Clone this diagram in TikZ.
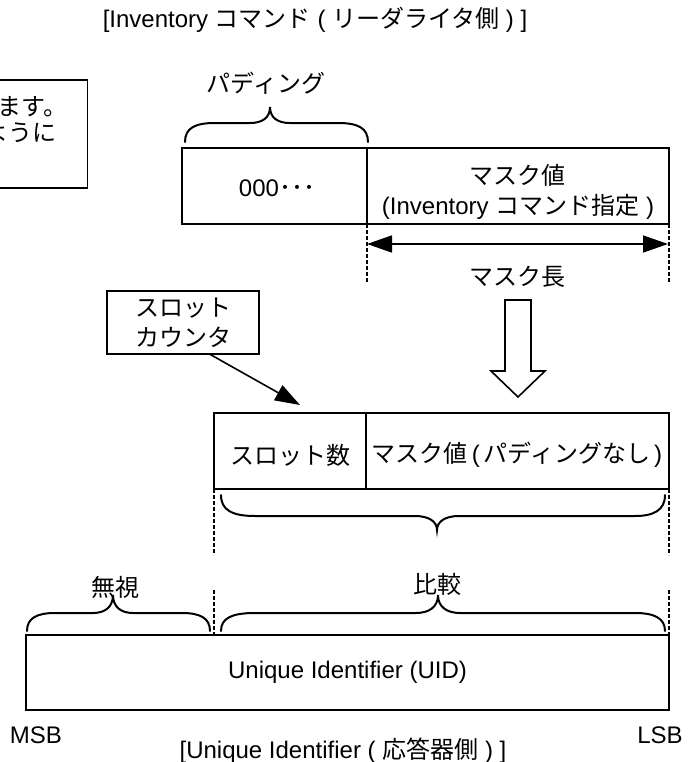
\documentclass[tikz,border=0pt]{standalone}
\usepackage{fontspec}
\setmainfont{Liberation Sans}
\newfontfamily\jpfont{Noto Sans CJK JP}
\newcommand{\jtx}[1]{{\jpfont #1}}
\usetikzlibrary{arrows.meta}
\begin{document}
\begin{tikzpicture}[x=0.5pt,y=-0.5pt,
  every node/.style={font=\fontsize{12}{15}\selectfont, inner sep=0pt, outer sep=0pt},
  cell/.style={draw, line width=0.8pt, minimum height=38pt},
  dashline/.style={line width=0.6pt, dash pattern=on 1.8pt off 1.2pt},
  braceline/.style={line width=1pt, line cap=round},
  bigarrow/.style={-{Triangle[length=12.5pt,width=8.5pt]}},
  dblarrow/.style={{Triangle[length=12.5pt,width=8.5pt]}-{Triangle[length=12.5pt,width=8.5pt]}}
]
\clip (0,0) rectangle (694,762);
\fill[white] (0,0) rectangle (694,762);

% title
\node (title) at (315,20) {[Inventory \jtx{コマンド} ( \jtx{リーダライタ側} ) ]};

% partial note box at left
\node[draw, line width=0.8pt, minimum width=55pt, minimum height=54pt] (note) at (32.5,134) {};
\node[anchor=east] (note1) at (67,107) {\jtx{ます。}};
\node[anchor=east] (note2) at (56,133) {\jtx{ように}};

% padding label and brace
\node (padlbl) at (266,83) {\jtx{パディング}};
\draw[braceline] (185,142) .. controls (185,128) and (195,123) .. (215,123) -- (250,123)
  .. controls (262,123) and (270,118) .. (270,107)
  .. controls (270,118) and (278,123) .. (290,123) -- (338,123)
  .. controls (358,123) and (368,128) .. (368,142);

% top boxes
\node[cell, minimum width=92.5pt] (pad) at (274.5,186) {};
\node[cell, minimum width=151pt] (mask) at (518,186) {};
\node (padtxt) at (277,188) {000\jtx{･･･}};
\node[align=center] (masktxt) at (518,192) {\jtx{マスク値}\\(Inventory \jtx{コマンド指定} )};

% mask length
\coordinate (dl1e) at (367,282);
\coordinate (dr1e) at (669,282);
\draw[dashline] (mask.south west) -- (dl1e);
\draw[dashline] (mask.south east) -- (dr1e);
\coordinate (al) at (367,244);
\coordinate (ar) at (668,244);
\draw[line width=0.8pt, dblarrow] (al) -- (ar);
\node (mlen) at (517,277) {\jtx{マスク長}};

% hollow arrow
\draw[line width=0.8pt, fill=white, line join=miter]
  (505,300) -- (531,300) -- (531,371) -- (545,371) -- (518,397) -- (491,371) -- (505,371) -- cycle;

% slot counter
\node[draw, line width=0.8pt, minimum width=76pt, minimum height=31.5pt, align=center] (slot) at (183,322.5) {\jtx{スロット}\\\jtx{カウンタ}};
\coordinate (slottip) at (300,405);
\draw[line width=0.8pt, bigarrow] (slot.-50) -- (slottip);

% middle boxes
\node[cell, minimum width=76pt] (snum) at (290,451) {};
\node[cell, minimum width=151.5pt] (mask2) at (517.5,451) {};
\node (snumtxt) at (290,455) {\jtx{スロット数}};
\node (mask2txt) at (517,455) {\jtx{マスク値}\,(\,\jtx{パディングなし}\,)};

% brace under middle boxes
\draw[braceline] (221,495) .. controls (221,510) and (232,516) .. (255,516) -- (415,516)
  .. controls (428,516) and (437,521) .. (437,530)
  .. controls (437,521) and (446,516) .. (459,516) -- (635,516)
  .. controls (654,516) and (665,510) .. (665,495);

\coordinate (dl2e) at (214,555);
\coordinate (dr2e) at (669,555);
\draw[dashline] (snum.south west) -- (dl2e);
\draw[dashline] (mask2.south east) -- (dr2e);

\node (cmp) at (437,584) {\jtx{比較}};
\node (ign) at (115,587) {\jtx{無視}};

% UID box
\node[cell, minimum width=321.5pt, minimum height=37.5pt] (uid) at (347.5,672.5) {Unique Identifier (UID)};
\coordinate (dl3s) at (214,590);
\coordinate (dr3s) at (669,590);
\draw[dashline] (dl3s) -- (dl3s |- uid.north);
\draw[dashline] (dr3s) -- (dr3s |- uid.north);

% braces over UID
\draw[braceline] (27,631) .. controls (27,618) and (37,613) .. (55,613) -- (93,613)
  .. controls (105,613) and (113,607) .. (113,595)
  .. controls (113,607) and (121,613) .. (133,613) -- (182,613)
  .. controls (200,613) and (210,618) .. (210,631);
\draw[braceline] (221,631) .. controls (221,618) and (232,613) .. (255,613) -- (416,613)
  .. controls (429,613) and (438,607) .. (438,595)
  .. controls (438,607) and (447,613) .. (460,613) -- (635,613)
  .. controls (654,613) and (665,618) .. (665,631);

% bottom labels
\node (msb) at (36,735) {MSB};
\node (lsb) at (660,735) {LSB};
\node (btitle) at (343,751) {[Unique Identifier ( \jtx{応答器側} ) ]};
\end{tikzpicture}
\end{document}
